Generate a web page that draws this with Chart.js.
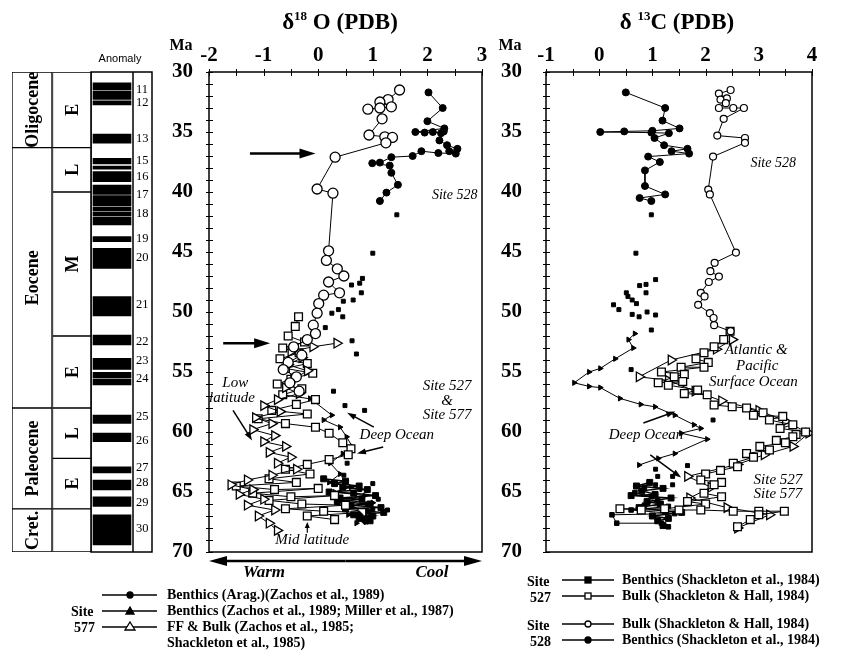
<!DOCTYPE html>
<html>
<head>
<meta charset="utf-8">
<script src="https://cdn.jsdelivr.net/npm/chart.js@4.4.1/dist/chart.umd.min.js"></script>
<style>
  body { margin: 0; background: #fff; }
  #wrap { position: relative; width: 852px; height: 654px; overflow: hidden; font-family: "Liberation Serif", "Times New Roman", serif; color: #000; }
  canvas { position: absolute; top: 0; }
  .t { position: absolute; font-weight: bold; white-space: nowrap; }
  .title { font-size: 23px; top: 8px; transform: translateX(-50%); }
  .title sup { font-size: 13px; }
  .ma { font-size: 16px; top: 36px; transform: translateX(-50%); }
  .lg { font-size: 14px; height: 18px; line-height: 18px; }
</style>
</head>
<body>
<div id="wrap">
  <canvas id="strat" width="160" height="600" style="left:0"></canvas>
  <canvas id="oxy" width="370" height="590" style="left:130px"></canvas>
  <canvas id="carb" width="362" height="590" style="left:490px"></canvas>

  <div class="t title" style="left:340px">δ<sup>18</sup> O (PDB)</div>
  <div class="t title" style="left:677px">δ <sup>13</sup>C (PDB)</div>
  <div class="t ma" style="left:181px">Ma</div>
  <div class="t ma" style="left:510px">Ma</div>

  <svg width="852" height="654" style="position:absolute;left:0;top:0" xmlns="http://www.w3.org/2000/svg">
    <g stroke="#000" stroke-width="1.3" fill="#000">
      <line x1="102" y1="595" x2="157" y2="595"/><circle cx="130" cy="595" r="3"/>
      <line x1="102" y1="611" x2="157" y2="611"/><polygon points="130,607 134,614 126,614"/>
      <line x1="102" y1="627" x2="157" y2="627"/><polygon points="130,622 135,630 125,630" fill="#fff"/>
      <line x1="562" y1="580" x2="614" y2="580"/><rect x="585" y="577" width="6" height="6"/>
      <line x1="562" y1="596" x2="614" y2="596"/><rect x="585" y="593" width="6" height="6" fill="#fff"/>
      <line x1="562" y1="624" x2="614" y2="624"/><circle cx="588" cy="624" r="3" fill="#fff"/>
      <line x1="562" y1="640" x2="614" y2="640"/><circle cx="588" cy="640" r="3"/>
    </g>
  </svg>

  <div class="t lg" style="left:167px;top:586px">Benthics (Arag.)(Zachos et al., 1989)</div>
  <div class="t lg" style="left:71px;top:603px">Site</div>
  <div class="t lg" style="left:167px;top:602px">Benthics (Zachos et al., 1989; Miller et al., 1987)</div>
  <div class="t lg" style="left:74px;top:619px">577</div>
  <div class="t lg" style="left:167px;top:618px">FF &amp; Bulk (Zachos et al., 1985;</div>
  <div class="t lg" style="left:167px;top:634px">Shackleton et al., 1985)</div>

  <div class="t lg" style="left:527px;top:573px">Site</div>
  <div class="t lg" style="left:622px;top:571px">Benthics (Shackleton et al., 1984)</div>
  <div class="t lg" style="left:530px;top:589px">527</div>
  <div class="t lg" style="left:622px;top:587px">Bulk (Shackleton &amp; Hall, 1984)</div>
  <div class="t lg" style="left:527px;top:617px">Site</div>
  <div class="t lg" style="left:622px;top:615px">Bulk (Shackleton &amp; Hall, 1984)</div>
  <div class="t lg" style="left:530px;top:633px">528</div>
  <div class="t lg" style="left:622px;top:631px">Benthics (Shackleton et al., 1984)</div>
</div>

<script>
// ---- stratigraphy (Ma) ----
const epochNames = ["Oligocene", "Eocene", "Paleocene", "Cret."];
const epochStart = [30, 36.3, 58, 66.4];
const epochEnd = [36.3, 58, 66.4, 70];
const subNames = ["E", "L", "M", "E", "L", "E", ""];
const subStart = [30, 36.3, 40, 52, 58, 62.2, 66.4];
const subEnd = [36.3, 40, 52, 58, 62.2, 66.4, 70];
const chronStart = [30.9, 31.6, 32.4, 35.17, 37.19, 37.83, 38.3, 39.42, 40.3, 41.25, 41.7, 42.1, 43.72, 44.69, 48.72, 51.92, 53.86, 55.03, 55.6, 58.58, 60.1, 62.9, 64.0, 65.4, 66.9];
const chronEnd = [31.5, 32.28, 32.75, 35.94, 37.67, 38.1, 39.14, 40.2, 41.15, 41.6, 42.0, 42.75, 44.14, 46.36, 50.33, 52.75, 54.78, 55.5, 56.08, 59.28, 60.8, 63.4, 64.83, 66.2, 69.4];
const anomalyLabels = ["11", "12", "13", "15", "16", "17", "18", "19", "20", "21", "22", "23", "24", "25", "26", "27", "28", "29", "30"];
const anomalyAge = [31.44, 32.6, 35.6, 37.4, 38.7, 40.2, 41.8, 43.9, 45.5, 49.4, 52.5, 54.1, 55.6, 58.7, 60.7, 63.0, 64.2, 65.9, 68.1];

// ---- d18O ----
const o18Bulk528Age = [31.5, 32.3, 32.5, 32.9, 33.1, 33.0, 33.9, 35.25, 35.4, 35.45, 35.9, 37.1, 39.75, 40.1, 44.9, 45.7, 46.4, 47.0, 47.5, 48.4, 48.6, 49.3, 50.1, 51.1, 51.8, 52.3, 52.9, 53.6, 54.2, 54.8, 55.4, 55.9, 56.6];
const o18Bulk528 = [1.49, 1.28, 1.13, 1.34, 0.91, 1.13, 1.17, 0.93, 1.22, 1.36, 1.24, 0.31, -0.02, 0.27, 0.19, 0.15, 0.35, 0.47, 0.19, 0.39, 0.10, 0.01, -0.02, -0.09, -0.05, -0.2, -0.45, -0.3, -0.55, -0.64, -0.4, -0.52, -0.35];
const o18Bent528Age = [31.7, 33.0, 34.1, 34.7, 35.0, 35.05, 35.0, 35.1, 34.95, 35.7, 36.1, 36.4, 36.6, 36.8, 36.75, 36.6, 37.0, 37.1, 37.55, 37.6, 37.8, 38.4, 39.4, 40.05, 40.75];
const o18Bent528 = [2.02, 2.28, 2.0, 2.31, 1.78, 1.95, 2.1, 2.25, 2.3, 2.22, 2.36, 2.55, 2.4, 2.52, 2.2, 1.89, 1.73, 1.34, 1.13, 0.99, 1.31, 1.34, 1.46, 1.25, 1.13];
const o18DotAge = [41.9, 45.1, 47.2, 47.6, 47.75, 48.4, 49.0, 49.1, 49.8, 50.1, 50.4, 51.3, 52.4, 53.5, 56.6, 57.8, 58.2, 61.7, 62.6, 63.6, 64.3, 64.8, 65.6, 66.5, 66.5, 67.5, 66.0];
const o18Dot = [1.44, 1.0, 0.81, 0.76, 0.61, 0.79, 0.64, 0.46, 0.37, 0.25, 0.45, 0.13, 0.62, 0.7, 0.28, 0.49, 0.85, 0.55, 0.53, 0.47, 1.0, 0.76, 1.1, 1.27, 1.0, 0.88, 0.9];
const o18Bulk527Age = [50.4, 51.2, 52.0, 52.5, 53.0, 53.4, 53.9, 54.3, 54.7, 55.1, 55.6, 56.0, 56.4, 56.9, 57.3, 57.7, 58.2, 58.5, 58.9, 59.3, 59.6, 60.1, 60.9, 61.4, 61.9, 62.3, 62.7, 63.1, 63.5, 63.9, 64.2, 64.5, 64.8, 64.7, 65.1, 65.4, 65.3, 65.7, 66.0, 66.1, 66.4, 66.6, 66.7, 67.0, 67.3];
const o18Bulk527 = [-0.36, -0.42, -0.55, -0.25, -0.65, -0.35, -0.7, -0.2, -0.6, -0.1, -0.5, -0.75, -0.3, -0.65, -0.05, -0.4, -0.85, -0.2, -1.1, -0.6, -0.05, 0.2, 0.45, 0.6, 0.55, 0.2, -0.2, -0.6, -0.15, -0.9, -0.4, -1.5, -0.8, 0.0, -1.2, -0.5, 0.3, -0.9, -0.3, 0.5, -0.6, 0.1, 0.8, -0.2, 0.3];
const o18FF577Age = [52.6, 52.9, 53.3, 53.8, 54.4, 54.9, 55.6, 56.3, 56.8, 57.3, 57.8, 58.3, 58.8, 59.3, 59.8, 60.3, 60.8, 61.2, 61.7, 62.1, 62.6, 63.1, 63.6, 64.0, 64.4, 64.8, 65.2, 65.6, 66.1, 66.5, 67.0, 67.6, 68.2];
const o18FF577 = [0.34, -0.1, -0.5, -0.3, -0.55, -0.2, -0.45, -0.6, -0.35, -0.75, -1.0, -0.7, -1.15, -0.85, -1.2, -0.8, -1.0, -0.6, -0.9, -0.5, -0.75, -0.4, -0.85, -1.3, -1.6, -1.2, -1.45, -1.0, -1.3, -0.8, -1.1, -0.9, -0.75];
const o18Bent577Age = [57.2, 58.6, 59.0, 59.6, 60.4, 61.2, 61.8, 62.6, 63.5, 64.2, 64.6, 65.0, 65.3, 65.7, 65.9, 66.2, 66.6, 66.9, 67.2, 67.6];
const o18Bent577 = [-0.15, 0.25, 0.1, 0.4, 0.52, 0.62, 0.45, 0.22, 0.4, 0.2, 0.6, 0.3, 0.85, 0.45, 1.0, 0.6, 0.95, 0.55, 0.8, 0.7];
const o18Bent527Age = [63.9, 64.1, 64.3, 64.5, 64.6, 64.8, 65.0, 65.1, 65.3, 65.5, 65.6, 65.8, 66.0, 66.1, 66.3, 66.4, 66.6, 66.7, 66.9, 67.0, 67.2, 67.4];
const o18Bent527 = [0.1, 0.5, 0.3, 0.75, 0.45, 0.9, 0.2, 0.65, 1.05, 0.4, 0.8, 0.35, 0.95, 0.6, 1.15, 0.5, 0.85, 1.2, 0.65, 1.0, 0.75, 0.95];
const o18AragAge = [66.9, 67.1, 67.4];
const o18Arag = [0.75, 0.95, 0.85];

// ---- d13C ----
const c13Bulk528Age = [31.5, 31.8, 32.2, 32.3, 32.6, 33.0, 33.0, 33.0, 33.9, 35.3, 35.5, 35.9, 37.05, 39.8, 40.2, 45.05, 45.9, 46.6, 47.05, 47.5, 48.4, 48.7, 49.4, 50.1, 50.5, 51.1, 51.6];
const c13Bulk528 = [2.47, 2.25, 2.40, 2.28, 2.38, 2.25, 2.52, 2.72, 2.34, 2.22, 2.74, 2.74, 2.14, 2.05, 2.08, 2.57, 2.17, 2.09, 2.25, 2.06, 1.91, 1.98, 1.86, 2.08, 2.15, 2.16, 2.47];
const c13Bent528Age = [31.7, 33.0, 34.05, 34.7, 34.9, 34.95, 35.0, 35.05, 35.1, 35.5, 36.1, 36.4, 36.6, 36.8, 37.05, 37.5, 38.2, 39.5, 40.2, 40.5, 40.75];
const c13Bent528 = [0.5, 1.24, 1.19, 1.51, 1.0, 0.47, 0.02, 0.98, 1.31, 1.04, 1.22, 1.66, 1.36, 1.69, 0.92, 1.14, 0.86, 0.86, 1.24, 0.76, 0.98];
const c13DotAge = [41.9, 45.1, 47.3, 47.7, 47.8, 48.4, 48.4, 48.7, 49.0, 49.3, 49.4, 49.8, 50.0, 50.2, 50.25, 50.4, 51.5, 54.8, 59.0, 62.8, 63.1, 63.7, 63.7, 64.4, 64.4];
const c13Dot = [0.98, 0.69, 1.06, 0.88, 0.76, 0.51, 0.88, 0.54, 0.62, 0.7, 0.27, 0.37, 0.9, 0.62, 1.06, 0.75, 0.98, 0.6, 2.14, 1.66, 1.06, 1.38, 1.1, 1.38, 1.06];
const c13Bent527Age = [51.8, 52.3, 53.0, 53.9, 54.7, 55.0, 55.9, 56.2, 56.3, 57.2, 57.7, 57.9, 58.6, 59.4, 59.7, 60.1, 60.6, 61.8, 62.2, 62.75];
const c13Bent527 = [0.67, 0.55, 0.64, 0.3, 0.02, -0.19, -0.47, -0.19, 0.02, 0.39, 0.78, 1.05, 1.42, 1.78, 1.91, 1.54, 2.03, 1.42, 1.11, 0.75];
const c13Deep527Age = [64.6, 65.05, 65.4, 65.7, 66.1, 66.2, 66.5, 66.8, 66.9, 67.6, 67.6, 67.9];
const c13Deep527 = [0.85, 0.67, 0.98, 1.1, 0.85, 1.3, 0.6, 1.42, 0.24, 0.33, 1.17, 1.3];
const c13Deep577Age = [64.2, 64.5, 64.7, 64.9, 65.2, 65.3, 65.5, 65.8, 66.0, 66.3, 66.6, 66.7, 67.0, 67.2, 67.4, 67.8];
const c13Deep577 = [0.95, 0.7, 1.2, 0.8, 1.05, 0.6, 1.35, 0.9, 1.15, 0.75, 1.25, 1.55, 1.0, 1.3, 1.1, 1.2];
const c13Bulk527Age = [51.6, 52.3, 52.9, 53.4, 53.9, 54.2, 54.6, 54.6, 55.0, 55.2, 55.4, 55.9, 55.8, 56.1, 56.5, 56.8, 56.9, 57.75, 57.9, 58.0, 58.4, 58.6, 58.7, 59.0, 59.4, 59.7, 60.0, 60.2, 60.4, 60.7, 60.9, 61.2, 61.5, 61.8, 62.1, 62.6, 62.9, 63.2, 63.5, 64.0, 64.2, 64.4, 65.1, 65.4, 65.8, 66.0, 66.4, 66.4, 66.5, 66.5, 66.5, 66.6, 66.6, 66.6, 66.9, 67.3, 67.9];
const c13Bulk527 = [2.46, 2.34, 2.16, 1.97, 1.82, 2.05, 1.54, 1.97, 1.17, 1.6, 1.41, 1.11, 1.57, 1.3, 1.85, 1.6, 2.03, 2.16, 2.5, 2.77, 3.08, 2.9, 3.45, 3.2, 3.64, 3.4, 3.88, 3.7, 3.64, 3.33, 3.5, 3.02, 3.2, 2.77, 2.9, 2.52, 2.6, 2.28, 2.0, 1.91, 2.3, 2.16, 1.97, 2.3, 1.66, 2.0, 1.23, 0.39, 0.79, 1.5, 1.91, 2.52, 3.0, 3.48, 3.0, 2.84, 2.6];
const c13FF577Age = [52.3, 53.1, 54.0, 55.4, 55.7, 56.6, 57.4, 58.2, 59.1, 60.1, 61.2, 61.9, 62.7, 63.7, 64.6, 65.5, 66.3, 66.9, 68.0];
const c13FF577 = [2.5, 2.2, 1.35, 0.75, 1.3, 1.8, 2.3, 3.0, 3.5, 3.94, 3.64, 3.1, 2.6, 1.66, 2.1, 1.7, 2.4, 3.2, 2.6];

const serif = '"Liberation Serif", "Times New Roman", serif';

function arrow(ctx, x1, y1, x2, y2, head, wide, lw) {
  const a = Math.atan2(y2 - y1, x2 - x1);
  const c = Math.cos(a), s = Math.sin(a);
  ctx.lineWidth = lw;
  ctx.beginPath();
  ctx.moveTo(x1, y1);
  ctx.lineTo(x2 - c * head * 0.8, y2 - s * head * 0.8);
  ctx.stroke();
  ctx.beginPath();
  ctx.moveTo(x2, y2);
  ctx.lineTo(x2 - c * head - s * wide / 2, y2 - s * head + c * wide / 2);
  ctx.lineTo(x2 - c * head + s * wide / 2, y2 - s * head - c * wide / 2);
  ctx.closePath();
  ctx.fill();
}

// box + small ticks on top and left
const frame = {
  id: "frame",
  afterDatasetsDraw(chart) {
    const { ctx, chartArea: a, scales: { x, y } } = chart;
    ctx.save();
    ctx.strokeStyle = "#000";
    ctx.lineWidth = 1.5;
    ctx.strokeRect(a.left, a.top, a.right - a.left, a.bottom - a.top);
    ctx.lineWidth = 1;
    ctx.beginPath();
    for (let v = x.min; v <= x.max + 1e-9; v += 0.5) {
      const px = Math.round(x.getPixelForValue(v)) + 0.5;
      ctx.moveTo(px, a.top - 3);
      ctx.lineTo(px, a.top + 4);
    }
    for (let v = y.min; v <= y.max; v += 1) {
      const py = Math.round(y.getPixelForValue(v)) + 0.5;
      ctx.moveTo(a.left - 3, py);
      ctx.lineTo(a.left + 4, py);
    }
    ctx.stroke();
    ctx.restore();
  }
};

function series(xs, ages, style) {
  return Object.assign({
    data: xs.map((v, i) => ({ x: v, y: ages[i] })),
    showLine: true,
    borderColor: "#000",
    borderWidth: 1,
    pointBorderColor: "#000",
    pointBackgroundColor: "#000",
    pointBorderWidth: 1
  }, style);
}

const openCircle = { pointStyle: "circle", pointRadius: 5, pointBackgroundColor: "#fff", pointBorderWidth: 1.3 };
const smallOpenCircle = { pointStyle: "circle", pointRadius: 3.5, pointBackgroundColor: "#fff", pointBorderWidth: 1.2 };
const filledCircle = { pointStyle: "circle", pointRadius: 3.5 };
const openSquare = { pointStyle: "rect", pointRadius: 5.5, pointBackgroundColor: "#fff", pointBorderWidth: 1.3 };
const openTri = { pointStyle: "triangle", pointRotation: 90, pointRadius: 5.5, pointBackgroundColor: "#fff", pointBorderWidth: 1.3 };
const smallTri = { pointStyle: "triangle", pointRotation: 90, pointRadius: 3 };
const dot = { pointStyle: "rect", pointRadius: 2.8, showLine: false };
const smallSquare = { pointStyle: "rect", pointRadius: 3.2 };
const blob = { pointStyle: "rect", pointRadius: 4.2, borderWidth: 1.5 };

function plotOptions(xmin, xmax, yWidth, yPad, rightPad) {
  const tickFont = { family: serif, size: 21, weight: "bold" };
  return {
    responsive: false,
    animation: false,
    layout: { padding: { left: 0, right: rightPad, top: 0, bottom: 38 } },
    plugins: { legend: { display: false }, tooltip: { enabled: false } },
    scales: {
      x: {
        type: "linear", position: "top", min: xmin, max: xmax,
        ticks: { stepSize: 1, color: "#000", font: tickFont, padding: 4 },
        grid: { display: false, drawTicks: false },
        border: { display: false },
        afterFit: s => { s.height = 72; }
      },
      y: {
        type: "linear", reverse: true, min: 30, max: 70,
        ticks: { stepSize: 5, color: "#000", font: tickFont, padding: yPad },
        grid: { display: false, drawTicks: false },
        border: { display: false },
        afterFit: s => { s.width = yWidth; }
      }
    }
  };
}

// ---- stratigraphic column ----
const stratLabels = {
  id: "stratLabels",
  afterDatasetsDraw(chart) {
    const { ctx, chartArea: a, scales: { x, y } } = chart;
    const ex = x.getPixelForValue(0), sx = x.getPixelForValue(1), ax = x.getPixelForValue(2);
    ctx.save();
    ctx.fillStyle = "#000";
    ctx.strokeStyle = "#000";
    ctx.textAlign = "center";
    ctx.textBaseline = "middle";

    function vertical(names, starts, ends, cx, w) {
      names.forEach((n, i) => {
        const y1 = y.getPixelForValue(starts[i]), y2 = y.getPixelForValue(ends[i]);
        ctx.save();
        ctx.beginPath();
        ctx.rect(cx - w / 2 + 1, y1, w - 2, y2 - y1);
        ctx.clip();
        ctx.translate(cx + 1, (y1 + y2) / 2);
        ctx.rotate(-Math.PI / 2);
        ctx.fillText(n, 0, 0);
        ctx.restore();
      });
    }
    ctx.font = `bold 18px ${serif}`;
    vertical(epochNames, epochStart, epochEnd, ex, 40);
    vertical(subNames, subStart, subEnd, sx, 39);

    // anomaly column frame
    const left = ax - 21, inner = ax + 21, right = a.right + 20;
    ctx.lineWidth = 1.5;
    ctx.strokeRect(left, a.top, right - left, a.bottom - a.top);
    ctx.beginPath();
    ctx.moveTo(inner, a.top);
    ctx.lineTo(inner, a.bottom);
    ctx.stroke();

    ctx.textAlign = "left";
    ctx.font = `12.5px ${serif}`;
    anomalyLabels.forEach((t, i) => ctx.fillText(t, inner + 3, y.getPixelForValue(anomalyAge[i])));

    ctx.textAlign = "center";
    ctx.font = '11px "Liberation Sans", Arial, sans-serif';
    ctx.fillText("Anomaly", ax + 8, a.top - 13);
    ctx.restore();
  }
};

new Chart(document.getElementById("strat"), {
  type: "bar",
  data: {
    labels: ["epoch", "sub", "anom"],
    datasets: [
      {
        data: epochStart.map((s, i) => ({ x: "epoch", y: [s, epochEnd[i]] })),
        backgroundColor: "#fff", borderColor: "#000", borderWidth: 1, borderSkipped: false,
        barThickness: 40, grouped: false
      },
      {
        data: subStart.map((s, i) => ({ x: "sub", y: [s, subEnd[i]] })),
        backgroundColor: "#fff", borderColor: "#000", borderWidth: 1, borderSkipped: false,
        barThickness: 39, grouped: false
      },
      {
        data: chronStart.map((s, i) => ({ x: "anom", y: [s, chronEnd[i]] })),
        backgroundColor: "#000", borderWidth: 0, barThickness: 38, grouped: false
      }
    ]
  },
  options: {
    responsive: false,
    animation: false,
    layout: { padding: { left: 12, right: 28, top: 72, bottom: 48 } },
    plugins: { legend: { display: false }, tooltip: { enabled: false } },
    scales: {
      x: { display: false, offset: true },
      y: { display: false, reverse: true, min: 30, max: 70 }
    }
  },
  plugins: [stratLabels]
});

// ---- d18O panel ----
const oxyNotes = {
  id: "oxyNotes",
  afterDatasetsDraw(chart) {
    const { ctx, chartArea: a, scales: { x, y } } = chart;
    const X = v => x.getPixelForValue(v), Y = v => y.getPixelForValue(v);
    ctx.save();
    ctx.fillStyle = "#000";
    ctx.strokeStyle = "#000";
    ctx.textAlign = "center";
    ctx.textBaseline = "middle";
    ctx.font = `italic 14px ${serif}`;
    ctx.fillText("Site 528", X(2.5), Y(40.25));
    ctx.font = `italic 15px ${serif}`;
    ctx.fillText("Site 527", X(2.36), Y(56.2));
    ctx.fillText("&", X(2.36), Y(57.4));
    ctx.fillText("Site 577", X(2.36), Y(58.6));
    ctx.fillText("Deep Ocean", X(1.44), Y(60.25));
    ctx.fillText("Low", X(-1.52), Y(55.9));
    ctx.fillText("latitude", X(-1.58), Y(57.2));
    ctx.fillText("Mid latitude", X(-0.11), Y(69.0));

    arrow(ctx, X(1.02), Y(59.6), X(0.53), Y(58.4), 9, 6, 1.5);
    arrow(ctx, X(1.19), Y(61.25), X(0.71), Y(61.8), 9, 6, 1.5);
    arrow(ctx, X(-1.56), Y(58.2), X(-1.21), Y(60.7), 9, 6, 1.5);
    arrow(ctx, X(-0.2), Y(68.4), X(-0.2), Y(67.5), 6, 5, 1.2);
    arrow(ctx, X(-1.25), Y(36.8), X(-0.05), Y(36.8), 16, 10, 2.5);
    arrow(ctx, X(-1.74), Y(52.6), X(-0.88), Y(52.6), 16, 10, 2.5);

    // Warm <-> Cool
    const ya = a.bottom + 9;
    arrow(ctx, (a.left + a.right) / 2, ya, a.left, ya, 18, 10, 2.5);
    arrow(ctx, (a.left + a.right) / 2, ya, a.right, ya, 18, 10, 2.5);
    ctx.font = `bold italic 17px ${serif}`;
    ctx.fillText("Warm", a.left + 55, a.bottom + 21);
    ctx.fillText("Cool", a.right - 50, a.bottom + 21);
    ctx.restore();
  }
};

new Chart(document.getElementById("oxy"), {
  type: "scatter",
  data: {
    datasets: [
      series(o18Bulk528, o18Bulk528Age, openCircle),
      series(o18Bent528, o18Bent528Age, filledCircle),
      series(o18Arag, o18AragAge, { pointStyle: "rectRot", pointRadius: 4 }),
      series(o18FF577, o18FF577Age, openTri),
      series(o18Bulk527, o18Bulk527Age, openSquare),
      series(o18Bent577, o18Bent577Age, smallTri),
      series(o18Bent527, o18Bent527Age, blob),
      series(o18Dot, o18DotAge, dot)
    ]
  },
  options: plotOptions(-2, 3, 79, 16, 18),
  plugins: [frame, oxyNotes]
});

// ---- d13C panel ----
const carbNotes = {
  id: "carbNotes",
  afterDatasetsDraw(chart) {
    const { ctx, scales: { x, y } } = chart;
    const X = v => x.getPixelForValue(v), Y = v => y.getPixelForValue(v);
    ctx.save();
    ctx.fillStyle = "#000";
    ctx.strokeStyle = "#000";
    ctx.textAlign = "center";
    ctx.textBaseline = "middle";
    ctx.font = `italic 14px ${serif}`;
    ctx.fillText("Site 528", X(3.27), Y(37.6));
    ctx.font = `italic 15px ${serif}`;
    ctx.fillText("Atlantic &", X(2.95), Y(53.2));
    ctx.fillText("Pacific", X(2.97), Y(54.5));
    ctx.fillText("Surface Ocean", X(2.9), Y(55.8));
    ctx.fillText("Deep Ocean", X(0.88), Y(60.25));
    ctx.fillText("Site 527", X(3.36), Y(64.0));
    ctx.fillText("Site 577", X(3.36), Y(65.2));
    arrow(ctx, X(0.83), Y(59.25), X(1.43), Y(58.3), 9, 6, 1.5);
    arrow(ctx, X(0.96), Y(61.9), X(1.54), Y(63.8), 9, 6, 1.5);
    ctx.restore();
  }
};

new Chart(document.getElementById("carb"), {
  type: "scatter",
  data: {
    datasets: [
      series(c13Bulk528, c13Bulk528Age, smallOpenCircle),
      series(c13Bent528, c13Bent528Age, filledCircle),
      series(c13Bulk527, c13Bulk527Age, openSquare),
      series(c13FF577, c13FF577Age, openTri),
      series(c13Bent527, c13Bent527Age, smallTri),
      series(c13Deep527, c13Deep527Age, smallSquare),
      series(c13Deep577, c13Deep577Age, blob),
      series(c13Dot, c13DotAge, dot)
    ]
  },
  options: plotOptions(-1, 4, 56, 24, 40),
  plugins: [frame, carbNotes]
});
</script>
</body>
</html>
